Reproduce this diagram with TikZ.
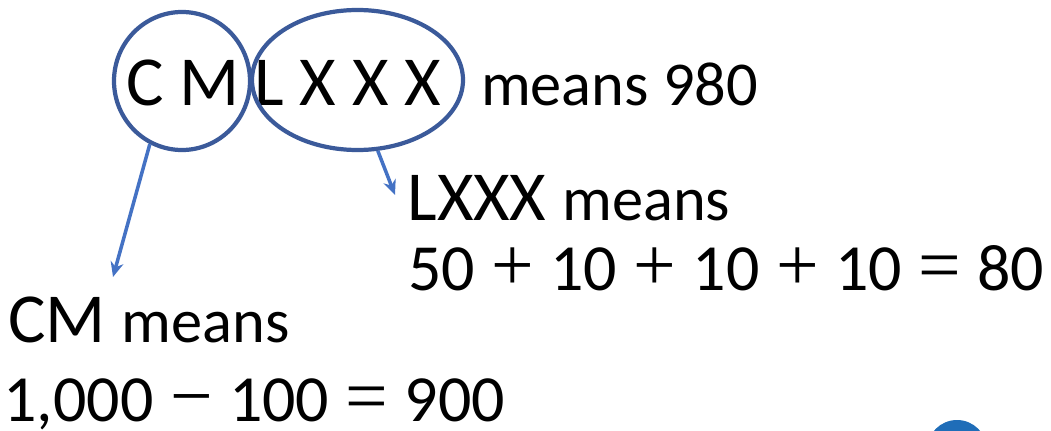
\documentclass[tikz,border=0pt]{standalone}
\usepackage{fontspec}
\setmainfont{Carlito}
\newfontfamily\opfont{Liberation Serif}
\usepackage{xcolor}
\usetikzlibrary{shapes.geometric,arrows.meta}
\definecolor{ringblue}{HTML}{3B5A9A}
\definecolor{arrowblue}{HTML}{4472C4}
\definecolor{dotblue}{HTML}{1F6DB8}
\newcommand{\bigtxt}{\fontsize{40}{48}\selectfont}
\newcommand{\midtxt}{\fontsize{35.5}{42}\selectfont}
\newcommand{\eqtxt}{\fontsize{37.5}{45}\selectfont}
\newcommand{\op}[1]{\hspace{0.25em}{\opfont\fontsize{43}{50}\selectfont #1}\hspace{0.25em}}

\begin{document}
\begin{tikzpicture}[txt/.style={anchor=base west, inner sep=0pt, outer sep=0pt},
  ring/.style={draw=ringblue, line width=2.4pt, ellipse, inner sep=0pt},
  arr/.style={arrowblue, line width=2pt, -{Stealth[length=0.3cm,width=0.26cm]}}]
\useasboundingbox (0,0) rectangle (21.02,-8.6);
\node[txt] (cm) at (2.53,-2.1) {\bigtxt C M};
\node[txt] (lx) at (5.09,-2.1) {\bigtxt L X X X};
\node[txt] (m980) at (9.62,-2.1) {\midtxt means 980};
\node[ring, minimum width=2.72cm, minimum height=2.76cm] (cmring) at (3.64,-1.62) {};
\node[ring, minimum width=4.22cm, minimum height=2.8cm] (lxring) at (7.15,-1.6) {};
\node[txt] (lxtxt) at (8.15,-4.4) {\bigtxt LXXX \midtxt means};
\node[txt] (eq1) at (8.16,-5.8) {\eqtxt 50\op{+}10\op{+}10\op{+}10\op{=}80};
\node[txt] (cmtxt) at (0.17,-6.84) {\bigtxt CM \midtxt means};
\node[txt] (eq2) at (0.07,-8.42) {\eqtxt 1,000\op{−}100\op{=}900};
\coordinate (cmtip) at (2.26,-5.54);
\coordinate (lxtip) at (7.9,-3.9);
\draw[arr] (cmring.243) -- (cmtip);
\draw[arr] (lxring.-74) -- (lxtip);
\begin{scope}
\clip (0,0) rectangle (21.02,-8.6);
\fill[dotblue] (19.14,-9.0) circle (0.6);
\end{scope}
\end{tikzpicture}
\end{document}
